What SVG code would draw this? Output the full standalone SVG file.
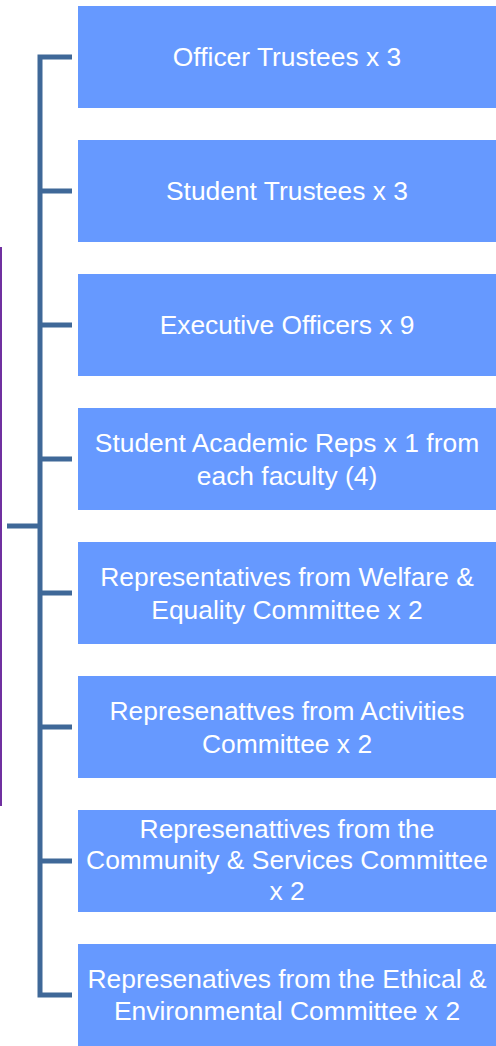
<svg xmlns="http://www.w3.org/2000/svg" width="496" height="1046" viewBox="0 0 496 1046">
<style>
.box{fill:#6699FF;}
.t{font-family:"Liberation Sans",Arial,sans-serif;font-size:26.4px;fill:#FFFFFF;text-anchor:middle;}
.c{stroke:#3F6898;stroke-width:5;fill:none;}
</style>
<rect x="-10" y="247" width="12" height="559" fill="#7030A0"/>
<g id="connectors">
<path class="c" d="M72,57 H40 V995 H72"/>
<path class="c" d="M40,191 H72 M40,325 H72 M40,459 H72 M40,593 H72 M40,727 H72 M40,861 H72"/>
<path class="c" d="M7,526 H40"/>
</g>
<g id="n1"><rect class="box" x="78" y="6" width="420" height="102"/><text class="t" x="287" y="66">Officer Trustees x 3</text></g>
<g id="n2"><rect class="box" x="78" y="140" width="420" height="102"/><text class="t" x="287" y="200">Student Trustees x 3</text></g>
<g id="n3"><rect class="box" x="78" y="274" width="420" height="102"/><text class="t" x="287" y="334">Executive Officers x 9</text></g>
<g id="n4"><rect class="box" x="78" y="408" width="420" height="102"/><text class="t" x="287" y="452">Student Academic Reps x 1 from</text><text class="t" x="287" y="485">each faculty (4)</text></g>
<g id="n5"><rect class="box" x="78" y="542" width="420" height="102"/><text class="t" x="287" y="586">Representatives from Welfare &amp;</text><text class="t" x="287" y="619">Equality Committee x 2</text></g>
<g id="n6"><rect class="box" x="78" y="676" width="420" height="102"/><text class="t" x="287" y="720">Represenattves from Activities</text><text class="t" x="287" y="753">Committee x 2</text></g>
<g id="n7"><rect class="box" x="78" y="810" width="420" height="102"/><text class="t" x="287" y="838">Represenattives from the</text><text class="t" x="287" y="869">Community &amp; Services Committee</text><text class="t" x="287" y="900">x 2</text></g>
<g id="n8"><rect class="box" x="78" y="944" width="420" height="102"/><text class="t" x="287" y="988">Represenatives from the Ethical &amp;</text><text class="t" x="287" y="1020">Environmental Committee x 2</text></g>
</svg>
